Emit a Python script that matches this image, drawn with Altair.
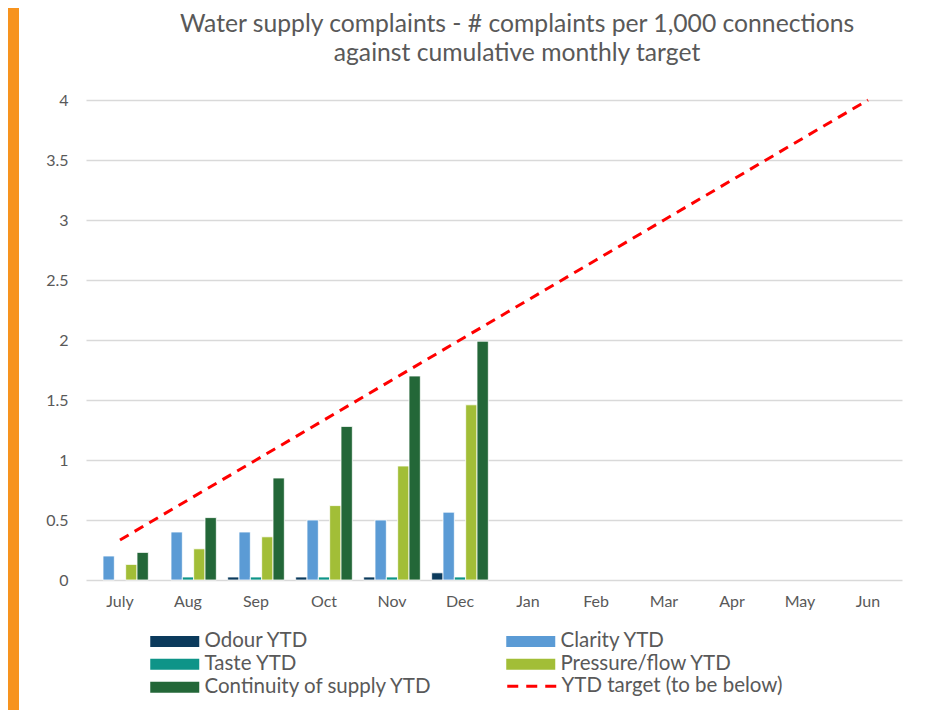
import altair as alt
import pandas as pd

months = ["July", "Aug", "Sep", "Oct", "Nov", "Dec", "Jan", "Feb", "Mar", "Apr", "May", "Jun"]
bar_months = ["July", "Aug", "Sep", "Oct", "Nov", "Dec"]
series = ["Odour YTD", "Clarity YTD", "Taste YTD", "Pressure/flow YTD", "Continuity of supply YTD"]
colors = ["#0B3A5C", "#5B9BD5", "#0E9488", "#A2BE37", "#236738"]

odour = [0.0, 0.0, 0.025, 0.025, 0.025, 0.06]
clarity = [0.2, 0.4, 0.4, 0.5, 0.5, 0.565]
taste = [0.0, 0.025, 0.025, 0.025, 0.025, 0.025]
pressure = [0.13, 0.26, 0.36, 0.62, 0.95, 1.46]
continuity = [0.23, 0.52, 0.85, 1.28, 1.70, 1.99]

target = [0.333, 0.667, 1.0, 1.333, 1.667, 2.0, 2.333, 2.667, 3.0, 3.333, 3.667, 4.0]
target_name = "YTD target (to be below)"

FONT = "Lato"
GREY = "#595959"

rows = []
for name, vals in zip(series, [odour, clarity, taste, pressure, continuity]):
    for m, v in zip(bar_months, vals):
        rows.append({"month": m, "series": name, "value": v})
bars_df = pd.DataFrame(rows)
line_df = pd.DataFrame({"month": months, "value": target, "series": target_name})

xscale = alt.Scale(domain=months, paddingInner=0, paddingOuter=0)
yscale = alt.Scale(domain=[0, 4], nice=False)

bars = alt.Chart(bars_df).transform_filter("datum.value > 0").mark_bar(
    stroke="white", strokeWidth=0.8
).encode(
    x=alt.X("month:N", scale=xscale, sort=months,
            axis=alt.Axis(title=None, labelAngle=0, ticks=False, domain=False,
                          labelFont=FONT, labelFontSize=16, labelColor=GREY, labelPadding=13)),
    xOffset=alt.XOffset("series:N", sort=series,
                        scale=alt.Scale(domain=series, paddingInner=0, paddingOuter=0.5)),
    y=alt.Y("value:Q", scale=yscale,
            axis=alt.Axis(title=None, values=[0, 0.5, 1, 1.5, 2, 2.5, 3, 3.5, 4], format="~g",
                          ticks=False, domain=False, labelFont=FONT, labelFontSize=16,
                          labelColor=GREY, labelPadding=18, gridColor="#D9D9D9", gridWidth=1.5)),
    color=alt.Color("series:N", sort=series,
                    scale=alt.Scale(domain=series, range=colors),
                    legend=alt.Legend(title=None, orient="none", legendX=59, legendY=531,
                                      columns=2, columnPadding=68, rowPadding=2,
                                      symbolType="M-1,-1.1 L8.8,-1.1 L8.8,1.1 L-1,1.1 Z", symbolSize=100,
                                      symbolStrokeWidth=0, labelFont=FONT, labelFontSize=20.5,
                                      labelColor=GREY, labelOffset=39, direction="horizontal",
                                      labelLimit=400)),
)

line = alt.Chart(line_df).mark_line(strokeWidth=3, strokeDash=[10, 7]).encode(
    x=alt.X("month:N", scale=xscale, sort=months),
    y=alt.Y("value:Q", scale=yscale),
    color=alt.Color("series:N", scale=alt.Scale(domain=[target_name], range=["#FF0000"]),
                    legend=alt.Legend(title=None, orient="none", legendX=416, legendY=576,
                                      symbolType="M-1,0 L8.8,0", symbolSize=100, symbolStrokeWidth=3,
                                      symbolDash=[11, 8], labelFont=FONT, labelFontSize=20.5,
                                      labelColor=GREY, labelOffset=39, labelLimit=400)),
)

border = alt.Chart(pd.DataFrame({"a": [0]})).mark_rect(color="#F7931E").encode(
    x=alt.value(-78), x2=alt.value(-67), y=alt.value(-92), y2=alt.value(611)
)

chart = alt.layer(border, bars, line).resolve_scale(color="independent").resolve_legend(
    color="independent"
).properties(
    width=816, height=480,
    autosize=alt.AutoSizeParams(type="none"),
    padding={"left": 78, "top": 92, "right": 15, "bottom": 130},
    title=alt.TitleParams(
        text=["Water supply complaints - # complaints per 1,000 connections",
              "against cumulative monthly target"],
        font=FONT, fontSize=24.7, fontWeight="normal", color=GREY, anchor="middle",
        dx=23, offset=0, dy=58, lineHeight=29,
    ),
).configure_view(stroke=None)

chart.save("out.html", embed_options={"renderer": "svg", "actions": False})
